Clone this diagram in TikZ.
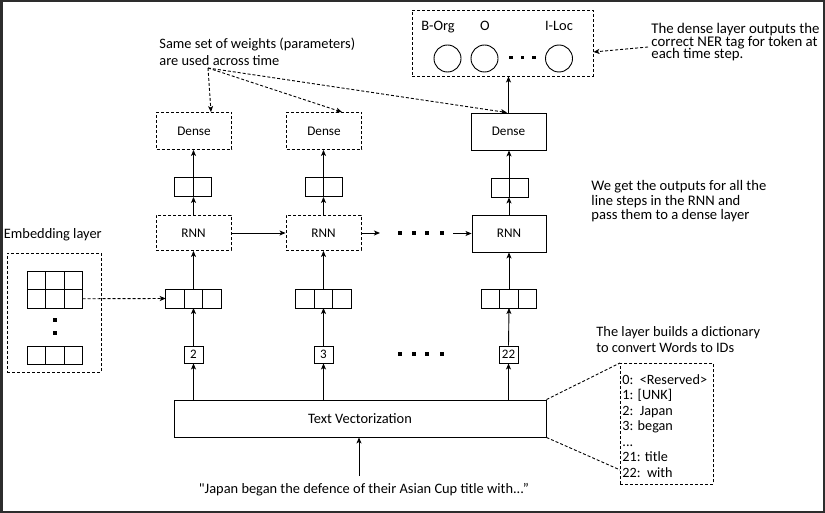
\documentclass[tikz,border=0pt]{standalone}
\usepackage{fontspec}
\setmainfont{Carlito}[Ligatures=TeXOff]
\usetikzlibrary{arrows.meta}
\definecolor{framec}{RGB}{45,45,45}
\newcommand\myfnt[2]{\fontsize{#1}{#2}\selectfont\lineskiplimit=-50pt\relax}
\begin{document}
\begin{tikzpicture}[x=1pt,y=-1pt,
  line width=0.9pt,
  arr/.style={-{Stealth[length=6pt,width=5pt,inset=1.5pt]}},
  dsh/.style={dash pattern=on 3pt off 2pt},
  lbl/.style={font=\myfnt{13.2}{15}, inner sep=0pt},
  dbox/.style={draw, dsh, minimum width=75pt, minimum height=37pt, lbl},
  sbox/.style={draw, minimum width=75pt, minimum height=37pt, lbl},
  cell/.style={draw, minimum width=18.5pt, minimum height=18.5pt, inner sep=0pt, outer sep=0pt},
  outv/.style={draw, minimum width=37pt, minimum height=19pt, inner sep=0pt},
  idb/.style={draw, minimum width=19pt, minimum height=17pt, inner sep=0pt, font=\myfnt{13}{15}},
  note/.style={font=\myfnt{14.4}{17}, align=left, inner sep=0pt},
  sq/.style={fill, minimum size=4pt, inner sep=0pt},
]
\useasboundingbox (0,0) rectangle (825,513);
\draw[line width=2.5pt, framec] (1.25,1.25) rectangle (823.75,511.75);

% output layer
\node[draw, dsh, minimum width=181pt, minimum height=66pt] (out) at (502.5,43) {};
\node[circle, draw, minimum size=27pt, inner sep=0pt] (c1) at (447.5,58.5) {};
\node[circle, draw, minimum size=27pt, inner sep=0pt] (c2) at (484.5,58.5) {};
\node[circle, draw, minimum size=27pt, inner sep=0pt] (c3) at (559,58.5) {};
\node[note, anchor=base] (lb1) at (438,31) {B-Org};
\node[note, anchor=base] (lb2) at (485,31) {O};
\node[note, anchor=base] (lb3) at (559,31) {I-Loc};
\node[sq, minimum size=3.5pt] (od1) at (511,57.5) {};
\node[sq, minimum size=3.5pt] (od2) at (522.5,57.5) {};
\node[sq, minimum size=3.5pt] (od3) at (534,57.5) {};

% dense layers
\node[dbox] (d1) at (194,131) {Dense};
\node[dbox] (d2) at (324,131) {Dense};
\node[sbox] (d3) at (508.5,131.5) {Dense};

% rnn outputs
\node[outv] (o1) at (193,187) {};
\node[outv] (o2) at (323.5,187) {};
\node[outv] (o3) at (509.5,187.5) {};

% rnn cells
\node[dbox, minimum height=35pt] (r1) at (193.5,233) {RNN};
\node[dbox, minimum height=35pt] (r2) at (323.5,233) {RNN};
\node[sbox, minimum width=74pt] (r3) at (509,233.5) {RNN};

% input vectors
\node[cell, minimum height=19pt] (i1b) at (193.5,298.5) {};
\node[cell, minimum height=19pt, anchor=east] (i1a) at (i1b.west) {};
\node[cell, minimum height=19pt, anchor=west] (i1c) at (i1b.east) {};
\node[cell, minimum height=19pt] (i2b) at (323.5,298.5) {};
\node[cell, minimum height=19pt, anchor=east] (i2a) at (i2b.west) {};
\node[cell, minimum height=19pt, anchor=west] (i2c) at (i2b.east) {};
\node[cell, minimum height=19pt] (i3b) at (509,298.5) {};
\node[cell, minimum height=19pt, anchor=east] (i3a) at (i3b.west) {};
\node[cell, minimum height=19pt, anchor=west] (i3c) at (i3b.east) {};

% ids
\node[idb] (id1) at (193.5,354.5) {2};
\node[idb] (id2) at (323.5,354.5) {3};
\node[idb] (id3) at (508.5,354.5) {22};

% text vectorization
\node[draw, minimum width=372pt, minimum height=37pt, note] (tv) at (360,418.5) {Text Vectorization};
\node[note, anchor=base] (quote) at (364,493.3) {"Japan began the defence of their Asian Cup title with...”};

% dots between time steps
\node[sq] (m1) at (400,233) {};
\node[sq] (m2) at (413.7,233) {};
\node[sq] (m3) at (427.3,233) {};
\node[sq] (m4) at (441.7,233) {};
\node[sq] (n1) at (400,354) {};
\node[sq] (n2) at (413.7,354) {};
\node[sq] (n3) at (427.3,354) {};
\node[sq] (n4) at (441.7,354) {};

% embedding layer
\node[note, anchor=base west] (embl) at (3.5,238.3) {Embedding layer};
\node[draw, dsh, minimum width=94pt, minimum height=119pt] (emb) at (54,312.5) {};
\node[cell] (e11) at (36.25,280.25) {};
\node[cell] (e12) at (54.75,280.25) {};
\node[cell] (e13) at (73.25,280.25) {};
\node[cell] (e21) at (36.25,298.75) {};
\node[cell] (e22) at (54.75,298.75) {};
\node[cell] (e23) at (73.25,298.75) {};
\node[cell] (e31) at (36.25,355.25) {};
\node[cell] (e32) at (54.75,355.25) {};
\node[cell] (e33) at (73.25,355.25) {};
\node[sq] (ed1) at (54.5,320) {};
\node[sq] (ed2) at (54.5,333) {};

% annotations (base anchor = baseline of last line)
\node[note, anchor=base west] (same) at (159,65.7) {Same set of weights (parameters)\\are used across time};
\node[font=\myfnt{14.8}{12.4}, align=left, inner sep=0pt, anchor=base west] (dtext) at (651,58.5) {The dense layer outputs the\\correct NER tag for token at\\each time step.};
\node[font=\myfnt{14.6}{14.7}, align=left, inner sep=0pt, anchor=base west] (wtext) at (591,220) {We get the outputs for all the\\line steps in the RNN and\\pass them to a dense layer};
\node[note, anchor=base west, font=\myfnt{14.4}{16.7}] (ltext) at (596,352.7) {The layer builds a dictionary\\to convert Words to IDs};
\node[draw, dsh, minimum width=93pt, minimum height=121pt, anchor=north west] (dict) at (620,363) {};
\node[note, anchor=base west, font=\myfnt{14.2}{15.55}] (dtx) at (622,477.3) {0:\ \ {<}Reserved{>}\\1: [UNK]\\2:\ \ Japan\\3: began\\...\\21: title\\22:\ \ with};

% connectors
\foreach \k in {1,2,3} {
  \draw[arr] (id\k.south |- tv.north) -- (id\k.south);
  \draw[arr] (id\k.north) -- (i\k b.south);
  \draw[arr] (i\k b.north) -- (r\k.south);
  \draw[arr] (r\k.north) -- (r\k.north |- o\k.south);
  \draw[arr] (r\k.north |- o\k.south) -- (r\k.north |- d\k.south);
}
\draw[arr] (d3.north) -- (d3.north |- out.south);
\draw[arr] (r1.east) -- (r2.west);
\coordinate (rx) at (380,233);
\coordinate (ry) at (453,233.5);
\draw[arr] (r2.east) -- (rx);
\draw[arr] (ry) -- (r3.west);
\coordinate (qa) at (359,476);
\draw[arr] (qa) -- (qa |- tv.south);
\draw[arr, dsh] (e23.east) -- (i1a.west);

\coordinate (s0) at (208,68);
\draw[arr, dsh] (s0) -- ([xshift=17pt]d1.north);
\draw[arr, dsh] (s0) -- ([xshift=18pt]d2.north);
\draw[arr, dsh] (s0) -- ([xshift=-1.5pt]d3.north);

\coordinate (ta) at (648,47);
\draw[arr, dsh] (ta) -- ([yshift=-9pt]out.east);

\draw[dsh] (tv.north east) -- (dict.north west);
\draw[dsh] (tv.south east) -- ([yshift=15pt]dict.south west);
\end{tikzpicture}
\end{document}
